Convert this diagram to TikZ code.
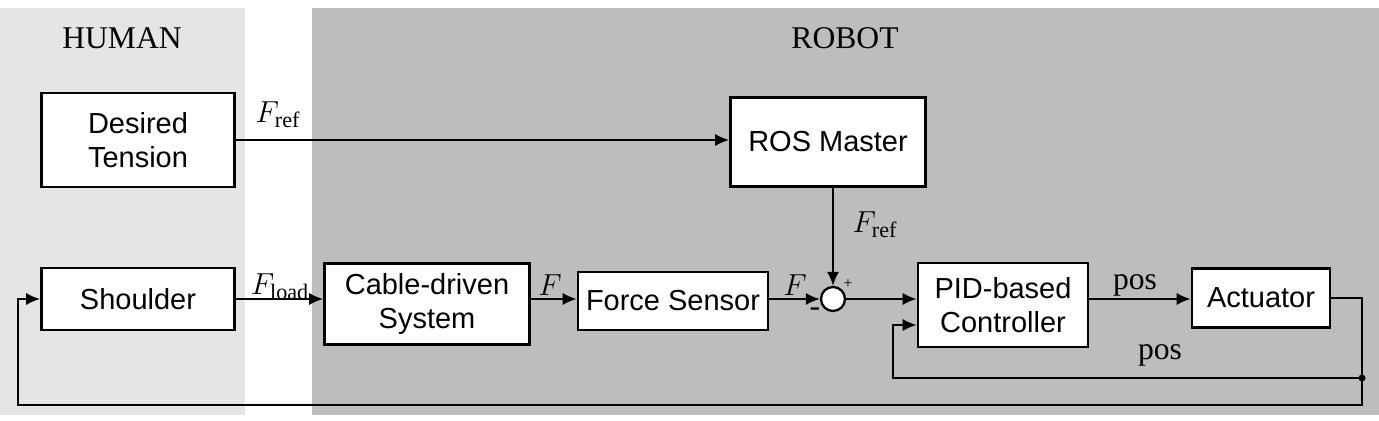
\documentclass[tikz,border=0pt]{standalone}
\usepackage{fontspec}
\setmainfont{Liberation Serif}
\newfontfamily\blockfont{Liberation Sans}
\usetikzlibrary{arrows.meta}
\tikzset{>=latex}
\colorlet{humancol}{black!10}
\colorlet{robotcol}{black!26}
\tikzset{
  block/.style={draw,line width=1.5pt,fill=white,align=center,inner sep=2pt,
                font=\blockfont\fontsize{16.5}{19}\selectfont},
  sig/.style={line width=1.3pt,->,>={Latex[length=8pt,width=7pt]}},
  lbl/.style={font=\fontsize{18}{20}\selectfont},
}
\begin{document}
\begin{tikzpicture}[x=0.02cm,y=-0.02cm]
  \useasboundingbox (0,0) rectangle (1379,421);
  % BACKGROUND
  \fill[humancol] (0,8) rectangle (245,415);
  \fill[robotcol] (312,8) rectangle (1379,415);
  \node[lbl] at (122,38) {HUMAN};
  \node[lbl] at (845,38) {ROBOT};

  % BLOCKS
  \node[block,minimum width=3.86cm,minimum height=1.88cm] (des) at (138,140) {Desired\\Tension};
  \node[block,minimum width=3.9cm,minimum height=1.78cm] (ros) at (828,142) {ROS Master};
  \node[block,minimum width=3.86cm,minimum height=1.24cm] (sho) at (138,299) {Shoulder};
  \node[block,minimum width=4.1cm,minimum height=1.62cm] (cab) at (427,304) {Cable-driven\\System};
  \node[block,minimum width=3.8cm,minimum height=1.16cm] (fs) at (673,301) {Force Sensor};
  \node[draw,line width=1.3pt,circle,fill=white,minimum size=0.48cm,inner sep=0pt] (sum) at (833,299) {};
  \node[block,minimum width=3.4cm,minimum height=1.68cm] (pid) at (1003,305) {PID-based\\Controller};
  \node[block,minimum width=2.76cm,minimum height=1.18cm] (act) at (1261,298) {Actuator};
  \coordinate (br) at (1362,378);

  % SIGNALS
  \draw[sig] (des.east |- 0,140) -- (ros.west |- 0,140);
  \draw[sig] (ros.south -| sum) -- (sum.north);
  \draw[sig] (sho.east) -- (cab.west |- sho.east);
  \draw[sig] (cab.east |- 0,299) -- (fs.west |- 0,299);
  \draw[sig] (fs.east |- 0,299) -- (sum.west);
  \draw[sig] (sum.east) -- (pid.west |- sum.east);
  \draw[sig] (pid.east |- 0,299) -- (act.west |- 0,299);
  \draw[sig] (act.east) -- (1362,298) -- (1362,405) -- (18,405) -- (18,299) -- (sho.west);
  \draw[sig] (br) -- (893,378) -- (893,325) -- (pid.west |- 0,325);
  \fill (br) circle (3.5);

  % LABELS
  \node[lbl] at (278,115) {$F_\mathrm{ref}$};
  \node[lbl] at (875,225) {$F_\mathrm{ref}$};
  \node[lbl] at (280,287) {$F_\mathrm{load}$};
  \node[lbl] at (550,285) {$F$};
  \node[lbl] at (795,285) {$F$};
  \node[font=\small] at (848,284) {+};
  \node[lbl] at (815,312) {-};
  \node[lbl] at (1135,285) {pos};
  \node[lbl] at (1160,355) {pos};
\end{tikzpicture}
\end{document}
